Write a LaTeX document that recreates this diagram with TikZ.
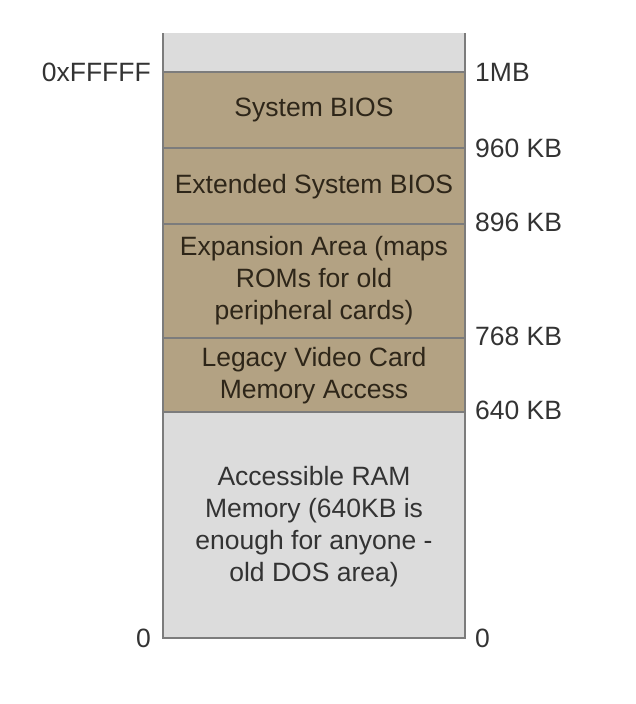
\documentclass[tikz,border=0pt]{standalone}
\usepackage{fontspec}
\setmainfont{Liberation Sans}
\definecolor{tan}{HTML}{B3A283}
\definecolor{ramgrey}{HTML}{DCDCDC}
\definecolor{edge}{HTML}{7C7C7C}
\definecolor{tantext}{HTML}{2E2619}
\definecolor{labeltext}{HTML}{333333}
\begin{document}
\begin{tikzpicture}[x=1pt,y=-1pt,
  region/.style={inner sep=0pt,outer sep=0pt,draw=none},
  areatext/.style={align=center,font=\fontsize{26.5}{32}\selectfont,text=tantext},
  ramtext/.style={align=center,font=\fontsize{26.5}{32}\selectfont,text=labeltext},
  rlabel/.style={anchor=west,font=\fontsize{26.5}{30}\selectfont,text=labeltext,inner sep=0pt},
  llabel/.style={anchor=east,font=\fontsize{26.5}{30}\selectfont,text=labeltext,inner sep=0pt},
  sep/.style={draw=edge,line width=1.4pt}]
\useasboundingbox (0,0) rectangle (636,704);
% fills
\fill[ramgrey] (163,33) rectangle (465,72);
\fill[tan] (163,72) rectangle (465,412);
\fill[ramgrey] (163,412) rectangle (465,638);
% region nodes
\node[region,minimum width=302pt,minimum height=76pt] (bios) at (314,110) {};
\node[region,minimum width=302pt,minimum height=76pt] (ext) at (314,186) {};
\node[region,minimum width=302pt,minimum height=114pt] (exp) at (314,281) {};
\node[region,minimum width=302pt,minimum height=74pt] (vid) at (314,375) {};
\node[region,minimum width=302pt,minimum height=226pt] (ram) at (314,525) {};
% texts
\node[areatext] (biost) at (314,110) {System BIOS};
\node[areatext] (extt) at (314,186.5) {Extended System BIOS};
\node[areatext] (expt) at (314,281) {Expansion Area (maps\\ROMs for old\\peripheral cards)};
\node[areatext] (vidt) at (314,375.5) {Legacy Video Card\\Memory Access};
\node[ramtext] (ramt) at (314,527) {Accessible RAM\\Memory (640KB is\\enough for anyone -\\old DOS area)};
% separators
\coordinate (tl) at (163,33);
\coordinate (tr) at (465,33);
\draw[sep] (bios.north west) -- (bios.north east);
\draw[sep] (ext.north west) -- (ext.north east);
\draw[sep] (exp.north west) -- (exp.north east);
\draw[sep] (vid.north west) -- (vid.north east);
\draw[sep] (ram.north west) -- (ram.north east);
\draw[sep] (tl) -- (ram.south west) -- (ram.south east) -- (tr);
% labels
\node[rlabel] (l1mb) at (475,72) {1MB};
\node[rlabel] (l960) at (475,148) {960 KB};
\node[rlabel] (l896) at (475,222) {896 KB};
\node[rlabel] (l768) at (475,336) {768 KB};
\node[rlabel] (l640) at (475,410) {640 KB};
\node[rlabel] (r0) at (475,638) {0};
\node[llabel] (lfff) at (151,72) {0xFFFFF};
\node[llabel] (l0) at (151,638) {0};
\end{tikzpicture}
\end{document}
